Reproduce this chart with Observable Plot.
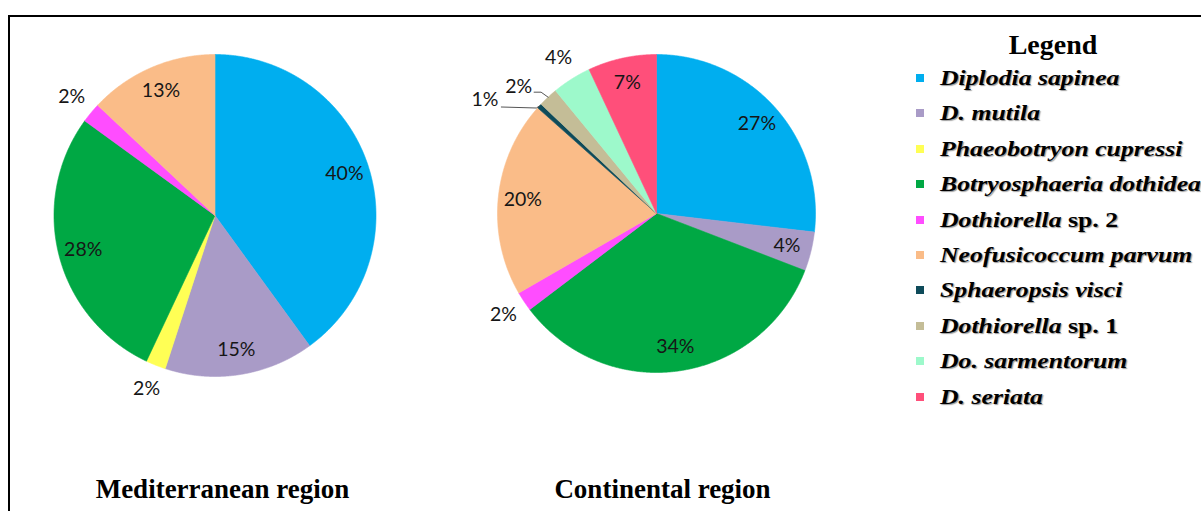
<!DOCTYPE html>
<html>
<head>
<meta charset="utf-8">
<script src="https://cdn.jsdelivr.net/npm/d3@7"></script>
<script src="https://cdn.jsdelivr.net/npm/@observablehq/plot@0.6"></script>
<style>
  html, body { margin: 0; padding: 0; background: #fff; }
  #wrap { position: relative; width: 1201px; height: 511px; overflow: hidden; background: #fff; }
  #chart { position: absolute; left: 0; top: 0; }
  #frame { position: absolute; left: 8px; top: 15px; right: -20px; bottom: -20px;
           border-top: 2px solid #000; border-left: 2px solid #000; pointer-events: none; }
  #legend { position: absolute; left: 916px; top: 0; width: 274px;
            font-family: "Liberation Serif", "Times New Roman", serif; font-weight: bold; color: #000; }
  #legend .title { position: absolute; left: 0; width: 274px; top: 29px; height: 32px; line-height: 32px;
                   text-align: center; font-size: 28px; }
  #legend .row { position: absolute; left: 0; height: 36px; line-height: 36px; white-space: nowrap;
                 font-size: 22px; text-shadow: 1px 1px 1px rgba(0,0,0,0.4); }
  #legend .sw { position: absolute; left: 0; top: 14px; width: 8px; height: 8px; }
  #legend .lab { position: absolute; left: 24px; top: 0; transform: scaleX(1.17); transform-origin: 0 50%; }
  #legend .lab i { font-style: italic; }
</style>
</head>
<body>
<div id="wrap">
  <div id="chart"></div>
  <div id="frame"></div>
  <div id="legend"></div>
</div>
<script>
// ---------------- data ----------------
const species = [
  "Diplodia sapinea", "D. mutila", "Phaeobotryon cupressi", "Botryosphaeria dothidea",
  "Dothiorella sp. 2", "Neofusicoccum parvum", "Sphaeropsis visci", "Dothiorella sp. 1",
  "Do. sarmentorum", "D. seriata"
];
const colors = [
  "#00aeef", "#a99bc7", "#ffff55", "#00a844", "#ff4dff",
  "#fabc88", "#0e4b5a", "#c4bd97", "#9df9cb", "#ff4f7a"
];

const medSpecies = ["Diplodia sapinea", "D. mutila", "Phaeobotryon cupressi", "Botryosphaeria dothidea", "Dothiorella sp. 2", "Neofusicoccum parvum"];
const medValues  = [40, 15, 2, 28, 2, 13];

const contSpecies = ["Diplodia sapinea", "D. mutila", "Botryosphaeria dothidea", "Dothiorella sp. 2", "Neofusicoccum parvum", "Sphaeropsis visci", "Dothiorella sp. 1", "Do. sarmentorum", "D. seriata"];
const contValues  = [27, 4, 34, 2, 20, 0.5, 2, 4, 7];

const regionTitles = ["Mediterranean region", "Continental region"];

// ---------------- layout (not data) ----------------
const pies = [
  { title: regionTitles[0], names: medSpecies, values: medValues, cx: 214.5, cy: 215, r: 161, titleX: 222,
    outside: [2, 4], leaders: {} },
  { title: regionTitles[1], names: contSpecies, values: contValues, cx: 656, cy: 213, r: 159, titleX: 662,
    outside: [3, 7],
    leaders: {
      5: { text: [-41, -6], path: [[0, 0], [-3, 2], [-38, 1]] },
      6: { text: [-16, -10], path: [[0, 0], [-7, -5], [-14, -5]] }
    } }
];

const polys = [];
const labels = [];
const leaderPts = [];
const titles = [];

pies.forEach((p, pi) => {
  const arcs = d3.pie().sort(null).startAngle(0).endAngle(2 * Math.PI)(p.values);
  arcs.forEach((a, i) => {
    const key = pi + "-" + i;
    const sp = p.names[i];
    const pt = (ang, rad) => ({ x: p.cx + rad * Math.sin(ang), y: p.cy - rad * Math.cos(ang) });
    polys.push({ key, species: sp, ...pt(0, 0) });
    const n = Math.max(2, Math.ceil((a.endAngle - a.startAngle) / 0.005));
    for (let k = 0; k <= n; k++) {
      const ang = a.startAngle + (a.endAngle - a.startAngle) * k / n;
      polys.push({ key, species: sp, ...pt(ang, p.r) });
    }
    polys.push({ key, species: sp, ...pt(0, 0) });
    const mid = (a.startAngle + a.endAngle) / 2;
    const txt = Math.round(a.data) + "%";
    if (p.leaders[i]) {
      const L = p.leaders[i];
      const e = pt(mid, p.r);
      L.path.forEach(([dx, dy]) => leaderPts.push({ key, x: e.x + dx, y: e.y + dy }));
      labels.push({ text: txt, x: e.x + L.text[0], y: e.y + L.text[1], anchor: "end" });
    } else if (p.outside.includes(i)) {
      const q = pt(mid, p.r * 1.155);
      labels.push({ text: txt, x: q.x, y: q.y, anchor: "middle" });
    } else {
      const q = pt(mid, p.r * 0.845);
      labels.push({ text: txt, x: q.x, y: q.y, anchor: "middle" });
    }
  });
  titles.push({ text: p.title, x: p.titleX, y: 489 });
});

const labelFont = "Lato, 'Noto Sans', sans-serif";
const chart = Plot.plot({
  width: 1201,
  height: 511,
  margin: 0,
  style: { background: "transparent", overflow: "visible" },
  x: { domain: [0, 1201], range: [0, 1201], axis: null },
  y: { domain: [0, 511], range: [0, 511], axis: null },
  color: { domain: species, range: colors },
  marks: [
    Plot.line(polys, { x: "x", y: "y", z: "key", fill: "species", stroke: "species", strokeWidth: 0.6, curve: "linear" }),
    Plot.line(leaderPts, { x: "x", y: "y", z: "key", stroke: "#555", strokeWidth: 1 }),
    Plot.text(labels.filter(d => d.anchor === "middle"), { x: "x", y: "y", text: "text", fill: "#161616",
      fontSize: 19.5, fontFamily: labelFont, textAnchor: "middle" }),
    Plot.text(labels.filter(d => d.anchor === "end"), { x: "x", y: "y", text: "text", fill: "#161616",
      fontSize: 19.5, fontFamily: labelFont, textAnchor: "end" }),
    Plot.text(titles, { x: "x", y: "y", text: "text", fill: "#000", fontSize: 27, fontWeight: "bold",
      fontFamily: "'Liberation Serif', 'Times New Roman', serif" })
  ]
});
document.getElementById("chart").appendChild(chart);

// ---------------- legend ----------------
const legend = document.getElementById("legend");
const t = document.createElement("div");
t.className = "title";
t.textContent = "Legend";
legend.appendChild(t);
species.forEach((s, i) => {
  const row = document.createElement("div");
  row.className = "row";
  row.style.top = (60 + i * 35.4) + "px";
  const sw = document.createElement("div");
  sw.className = "sw";
  sw.style.background = colors[i];
  const lab = document.createElement("div");
  lab.className = "lab";
  const m = s.match(/^(.*?)( sp\. \d+)$/);
  const it = document.createElement("i");
  it.textContent = m ? m[1] : s;
  lab.appendChild(it);
  if (m) lab.appendChild(document.createTextNode(m[2]));
  row.appendChild(sw);
  row.appendChild(lab);
  legend.appendChild(row);
});
</script>
</body>
</html>
